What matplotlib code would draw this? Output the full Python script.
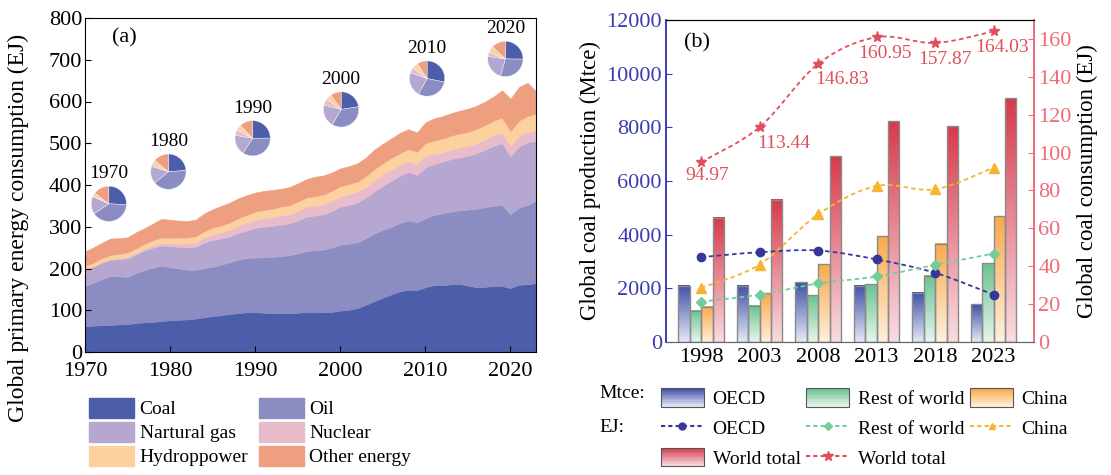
import numpy as np
import matplotlib.pyplot as plt
from matplotlib.patches import Rectangle, Patch, PathPatch
from matplotlib.path import Path
from matplotlib.lines import Line2D
from matplotlib.colors import LinearSegmentedColormap, to_rgb
from matplotlib.legend_handler import HandlerBase

plt.rcParams['font.family'] = ['Liberation Serif', 'DejaVu Serif']

# ---------------- (a) primary energy by source, EJ ----------------
years = np.arange(1970, 2024)
coal = [62, 63, 64, 65, 66, 67, 69, 71, 72, 74,
        76, 77, 78, 80, 83, 86, 88, 91, 93, 95,
        95, 94, 93, 93, 93, 94, 96, 96, 95, 96,
        99, 101, 105, 113, 122, 130, 138, 145, 149, 148,
        155, 160, 160, 162, 163, 159, 155, 156, 158, 158,
        153, 161, 162, 165]
oil = [96, 103, 110, 117, 115, 113, 120, 125, 130, 133,
       127, 123, 119, 117, 118, 118, 121, 124, 128, 130,
       131, 133, 135, 136, 139, 142, 145, 148, 150, 154,
       158, 158, 158, 159, 162, 162, 162, 164, 166, 163,
       165, 168, 172, 174, 176, 182, 188, 191, 192, 194,
       177, 185, 190, 198]
gas = [39, 39, 40, 39, 41, 44, 45, 47, 48, 48,
       50, 52, 54, 55, 61, 64, 63, 62, 64, 66,
       71, 73, 74, 76, 76, 79, 83, 83, 85, 88,
       91, 93, 95, 98, 101, 106, 110, 113, 116, 113,
       122, 122, 124, 126, 127, 129, 133, 137, 144, 148,
       139, 146, 150, 143]
nuclear = [1, 1, 2, 2, 3, 4, 4, 5, 6, 6,
           7, 8, 9, 10, 12, 14, 15, 16, 18, 19,
           20, 21, 21, 22, 22, 23, 24, 23, 24, 25,
           25, 26, 26, 26, 27, 27, 27, 26, 26, 26,
           27, 25, 23, 23, 24, 24, 24, 25, 25, 26,
           25, 26, 25, 25]
hydro = [8, 8, 9, 9, 10, 10, 10, 11, 12, 13,
         13, 14, 14, 15, 15, 16, 16, 17, 17, 18,
         19, 19, 20, 21, 21, 22, 22, 23, 23, 23,
         24, 24, 24, 25, 26, 27, 28, 28, 29, 29,
         31, 31, 32, 33, 33, 33, 34, 34, 35, 35,
         35, 36, 38, 40]
other = [35, 37, 37, 40, 38, 37, 39, 38, 40, 45,
         44, 41, 40, 40, 43, 44, 47, 48, 48, 48,
         46, 46, 45, 43, 44, 44, 44, 47, 46, 44,
         43, 43, 44, 45, 47, 47, 47, 49, 48, 47,
         50, 54, 54, 54, 55, 56, 56, 57, 58, 66,
         78, 81, 80, 54]
source_names = ['Coal', 'Oil', 'Nartural gas', 'Nuclear', 'Hydroppower', 'Other energy']
source_colors = ['#4c5ea9', '#8a8cc2', '#b5a7d0', '#e8bccb', '#fdd19e', '#ee9f80']

pie_years = [1970, 1980, 1990, 2000, 2010, 2020]
pie_x = [1972.8, 1979.8, 1989.7, 2000.1, 2010.2, 2019.4]
pie_y = [355, 432, 512, 581, 655, 702]

# ---------------- (b) coal production (Mtce) and consumption (EJ) ----------------
b_years = ['1998', '2003', '2008', '2013', '2018', '2023']
mtce_oecd = [2100, 2100, 2230, 2100, 1830, 1410]
mtce_row = [1170, 1360, 1750, 2150, 2460, 2930]
mtce_china = [1320, 1810, 2890, 3950, 3670, 4680]
mtce_world = [4630, 5300, 6920, 8220, 8040, 9090]
ej_oecd = [44.8, 47.4, 48.3, 43.6, 36.5, 25.0]
ej_row = [21.3, 25.0, 30.9, 34.6, 40.7, 46.7]
ej_china = [28.6, 40.9, 67.4, 82.4, 80.6, 92.1]
ej_world = [94.97, 113.44, 146.83, 160.95, 157.87, 164.03]

blue_axis = '#3c3cb0'
red_axis = '#f06a78'
grad = {  # (top, bottom)
    'oecd': ('#3f52a6', '#e6e9f6'),
    'row': ('#6cc28f', '#e6f6ec'),
    'china': ('#f9a94b', '#fff0de'),
    'world': ('#d63a4c', '#f9dde2'),
}


class GradientKey:
    def __init__(self, top, bottom):
        self.top, self.bottom = top, bottom


class GradientHandler(HandlerBase):
    def create_artists(self, legend, h, xd, yd, width, height, fontsize, trans):
        n = 14
        top, bot = np.array(to_rgb(h.top)), np.array(to_rgb(h.bottom))
        arts = []
        for i in range(n):
            f = i / (n - 1)
            arts.append(Rectangle((-xd, -yd + height * i / n), width, height / n,
                                  facecolor=bot + (top - bot) * f, edgecolor='none',
                                  transform=trans))
        arts.append(Rectangle((-xd, -yd), width, height, facecolor='none',
                              edgecolor='#555555', lw=0.8, transform=trans))
        return arts


def smooth_path(xs, ys):
    pts = np.column_stack([xs, ys]).astype(float)
    ext = np.vstack([pts[0], pts, pts[-1]])
    verts, codes = [pts[0]], [Path.MOVETO]
    for i in range(len(pts) - 1):
        p0, p1, p2, p3 = ext[i], ext[i + 1], ext[i + 2], ext[i + 3]
        verts += [p1 + (p2 - p0) / 6, p2 - (p3 - p1) / 6, p2]
        codes += [Path.CURVE4] * 3
    return Path(verts, codes)


fig = plt.figure(figsize=(11.11, 4.75), dpi=100)

# ---------------- panel (a) ----------------
ax_a = fig.add_axes([85 / 1111, 123 / 475, 451 / 1111, 334 / 475])
layers = [coal, oil, gas, nuclear, hydro, other]
ax_a.stackplot(years, *layers, colors=source_colors, edgecolor='face', linewidth=0.3)
ax_a.set_xlim(1970, 2023)
ax_a.set_ylim(0, 800)
ax_a.set_xticks(range(1970, 2021, 10))
ax_a.set_yticks(range(0, 801, 100))
ax_a.tick_params(direction='in', labelsize=16, length=4, pad=2)
ax_a.tick_params(axis='x', pad=7)
ax_a.set_ylabel('Global primary energy consumption (EJ)', fontsize=17)
ax_a.yaxis.set_label_coords(-0.125, 0.37)
ax_a.text(0.06, 0.94, '(a)', transform=ax_a.transAxes, fontsize=16, va='center')

r_pix = 18
w_pie, h_pie = 2 * r_pix / 8.51, 2 * r_pix / 0.4175
for yr, cx, cy in zip(pie_years, pie_x, pie_y):
    idx = yr - 1970
    shares = [layer[idx] for layer in layers]
    pax = ax_a.inset_axes([cx - w_pie / 2, cy - h_pie / 2, w_pie, h_pie],
                          transform=ax_a.transData)
    pax.pie(shares, colors=source_colors, startangle=90, counterclock=False,
            wedgeprops=dict(edgecolor='#f4f4f8', linewidth=0.3))
    pax.set_xlim(-1.02, 1.02)
    pax.set_ylim(-1.02, 1.02)
    pax.set_aspect('equal')
    ax_a.annotate(str(yr), (cx, cy), xytext=(0, 30), textcoords='offset pixels',
                  ha='center', va='center', fontsize=14)

handles_a = [Patch(facecolor=c, edgecolor=c) for c in source_colors]
order = [0, 2, 4, 1, 3, 5]
fig.legend([handles_a[i] for i in order], [source_names[i] for i in order],
           ncol=2, loc='center left', bbox_to_anchor=(89 / 1111, 1 - 432 / 475),
           frameon=False, fontsize=14, handlelength=2.3, handleheight=1.2,
           labelspacing=0.18, handletextpad=0.3, columnspacing=0.55,
           borderpad=0, borderaxespad=0)

# ---------------- panel (b) ----------------
ax_b = fig.add_axes([666 / 1111, 133 / 475, 368 / 1111, 322 / 475])
ax_r = ax_b.twinx()
x = np.arange(len(b_years))
bw = 0.195
bar_sets = [(mtce_oecd, 'oecd', -1.5), (mtce_row, 'row', -0.5),
            (mtce_china, 'china', 0.5), (mtce_world, 'world', 1.5)]
for vals, key, off in bar_sets:
    top, bot = grad[key]
    cmap = LinearSegmentedColormap.from_list(key, [bot, top])
    bars = ax_b.bar(x + off * bw, vals, bw, facecolor='none',
                    edgecolor='#8a8a8a', linewidth=1.0, zorder=3)
    for b in bars:
        ax_b.imshow(np.linspace(0, 1, 256).reshape(-1, 1), cmap=cmap, origin='lower',
                    extent=(b.get_x(), b.get_x() + b.get_width(), 0, b.get_height()),
                    aspect='auto', zorder=2)
ax_b.set_xlim(-0.6, 5.69)
ax_b.set_ylim(0, 12000)
ax_b.set_xticks(x)
ax_b.set_xticklabels(b_years)
ax_b.set_yticks(range(0, 12001, 2000))
ax_b.tick_params(axis='x', length=0, labelsize=16, pad=4)
ax_b.tick_params(axis='y', direction='in', length=4, labelsize=16, colors=blue_axis, pad=3)
ax_b.set_ylabel('Global coal production (Mtce)', fontsize=16.5)
ax_b.text(0.05, 0.93, '(b)', transform=ax_b.transAxes, fontsize=16, va='center')

line_sets = [(ej_oecd, '#37379a', 'o', 6), (ej_row, '#74cc9a', 'D', 5),
             (ej_china, '#f5b52e', '^', 7), (ej_world, '#e0505a', '*', 8)]
for vals, col, mk, ms in line_sets:
    ax_r.add_patch(PathPatch(smooth_path(x, vals), fill=False, edgecolor=col,
                             linestyle=(0, (2.5, 1.8)), linewidth=1.3, zorder=4))
    ax_r.plot(x, vals, ls='none', marker=mk, color=col, ms=ms, zorder=5)

label_offsets = [(6, -13), (24, -16), (24, -16), (8, -16), (10, -17), (8, -16)]
for xi, v, off in zip(x, ej_world, label_offsets):
    ax_r.annotate(f'{v:.2f}', (xi, v), xytext=off, textcoords='offset pixels',
                  ha='center', va='center', fontsize=14, color='#e0505a')

ax_r.set_ylim(0, 170)
ax_r.set_yticks(range(0, 161, 20))
ax_r.tick_params(axis='y', direction='in', length=4, labelsize=16, colors=red_axis, pad=3)
ax_r.set_ylabel('Global coal consumption (EJ)', fontsize=16.5)

for a in (ax_b, ax_r):
    a.spines['left'].set_color(blue_axis)
    a.spines['right'].set_color(red_axis)
    a.spines['bottom'].set_color('#666666')
    a.spines['left'].set_linewidth(1.2)
    a.spines['right'].set_linewidth(1.2)

handles_b = [GradientKey(*grad['oecd']),
             Line2D([], [], color='#37379a', ls=(0, (2, 1.5)), marker='o', ms=5),
             GradientKey(*grad['world']),
             GradientKey(*grad['row']),
             Line2D([], [], color='#74cc9a', ls=(0, (2, 1.5)), marker='D', ms=4),
             Line2D([], [], color='#e0505a', ls=(0, (2, 1.5)), marker='*', ms=7),
             GradientKey(*grad['china']),
             Line2D([], [], color='#f5b52e', ls=(0, (2, 1.5)), marker='^', ms=5)]
labels_b = ['OECD', 'OECD', 'World total', 'Rest of world', 'Rest of world',
            'World total', 'China', 'China']
fig.legend(handles_b, labels_b, ncol=3, loc='center left',
           bbox_to_anchor=(661 / 1111, 1 - 428 / 475), frameon=False, fontsize=14,
           handlelength=2.2, handleheight=1.1, labelspacing=0.5, handletextpad=0.45,
           columnspacing=0.3, borderpad=0, borderaxespad=0,
           handler_map={GradientKey: GradientHandler()})
fig.text(599 / 1111, 1 - 393 / 475, 'Mtce:', fontsize=14, va='center')
fig.text(599 / 1111, 1 - 428 / 475, 'EJ:', fontsize=14, va='center')

fig.savefig('out.png', dpi=100)
